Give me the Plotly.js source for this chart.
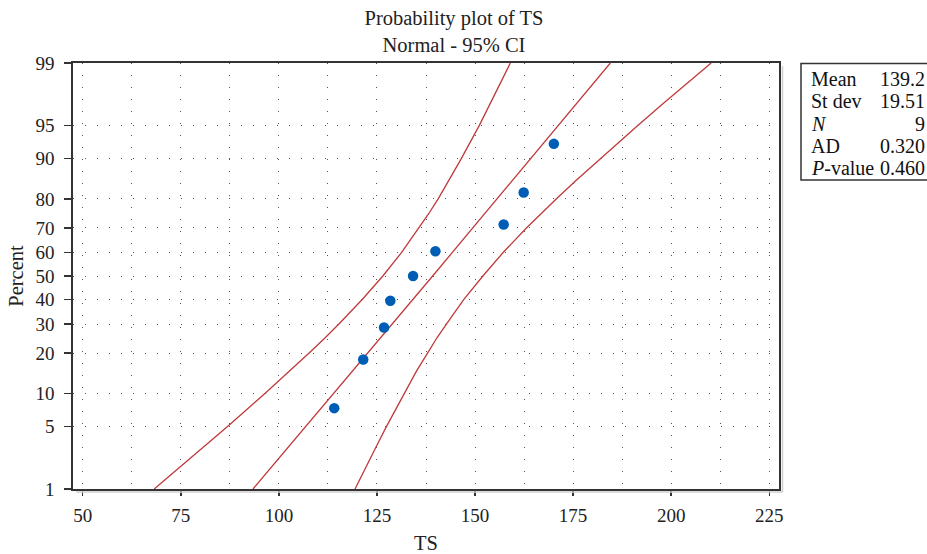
<!DOCTYPE html>
<html>
<head>
<meta charset="utf-8">
<script src="https://cdn.plot.ly/plotly-3.0.1.min.js"></script>
<style>
html,body{margin:0;padding:0;background:#fff;overflow:hidden;}
#chart{width:927px;height:554px;}
</style>
</head>
<body>
<div id="chart"></div>
<script>
// ---- data ----
const sampleTS = [114.1, 121.5, 126.8, 128.4, 134.2, 139.9, 157.3, 162.4, 170.1];
const samplePercent = [7.45, 18.09, 28.72, 39.36, 50.0, 60.64, 71.28, 81.91, 92.55];

const fitPercent = [1, 50, 99];
const fitTS = [93.4, 139.2, 184.5];

const ciPercent = [1, 2, 3, 5, 10, 15, 20, 25, 30, 40, 50, 60, 70, 75, 80, 85, 90, 95, 97, 98, 99];
const ciLowerTS = [68.2, 75.7, 80.5, 86.9, 96.5, 102.8, 107.7, 111.8, 115.3, 121.3, 126.5, 131.2, 135.7, 138.1, 140.6, 143.3, 146.5, 151.1, 153.9, 155.9, 159.0];
const ciUpperTS = [119.4, 122.5, 124.6, 127.4, 131.9, 135.1, 137.9, 140.3, 142.7, 147.2, 152.0, 157.1, 163.1, 166.6, 170.7, 175.6, 181.9, 191.5, 197.9, 202.7, 210.2];

const yTickPercent = [1, 5, 10, 20, 30, 40, 50, 60, 70, 80, 90, 95, 99];
const xTicks = [50, 75, 100, 125, 150, 175, 200, 225];

const statLabels = ['Mean', 'St dev', '<i>N</i>', 'AD', '<i>P</i>-value'];
const statValues = ['139.2', '19.51', '9', '0.320', '0.460'];

// ---- normal probability scale (inverse normal CDF) ----
function probit(p) {
  const a = [-3.969683028665376e+01, 2.209460984245205e+02, -2.759285104469687e+02, 1.383577518672690e+02, -3.066479806614716e+01, 2.506628277459239e+00];
  const b = [-5.447609879822406e+01, 1.615858368580409e+02, -1.556989798598866e+02, 6.680131188771972e+01, -1.328068155288572e+01];
  const c = [-7.784894002430293e-03, -3.223964580411365e-01, -2.400758277161838e+00, -2.549732539343734e+00, 4.374664141464968e+00, 2.938163982698783e+00];
  const d = [7.784695709041462e-03, 3.224671290700398e-01, 2.445134137142996e+00, 3.754408661907416e+00];
  const pl = 0.02425, ph = 1 - pl;
  let q, r;
  if (p < pl) {
    q = Math.sqrt(-2 * Math.log(p));
    return (((((c[0]*q+c[1])*q+c[2])*q+c[3])*q+c[4])*q+c[5]) / ((((d[0]*q+d[1])*q+d[2])*q+d[3])*q+1);
  } else if (p <= ph) {
    q = p - 0.5; r = q*q;
    return (((((a[0]*r+a[1])*r+a[2])*r+a[3])*r+a[4])*r+a[5])*q / (((((b[0]*r+b[1])*r+b[2])*r+b[3])*r+b[4])*r+1);
  } else {
    q = Math.sqrt(-2 * Math.log(1 - p));
    return -(((((c[0]*q+c[1])*q+c[2])*q+c[3])*q+c[4])*q+c[5]) / ((((d[0]*q+d[1])*q+d[2])*q+d[3])*q+1);
  }
}
const toZ = arr => arr.map(v => probit(v / 100));

const FONT = 'Liberation Serif, Times New Roman, serif';
const RED = '#c0393b';
const AX = '#333333';
const GRID = '#555555';

const lineStyle = {color: RED, width: 1.3};
const traces = [
  {x: ciLowerTS, y: toZ(ciPercent), type: 'scatter', mode: 'lines', line: lineStyle, hoverinfo: 'skip', cliponaxis: true},
  {x: ciUpperTS, y: toZ(ciPercent), type: 'scatter', mode: 'lines', line: lineStyle, hoverinfo: 'skip', cliponaxis: true},
  {x: fitTS, y: toZ(fitPercent), type: 'scatter', mode: 'lines', line: lineStyle, hoverinfo: 'skip', cliponaxis: true},
  {x: sampleTS, y: toZ(samplePercent), type: 'scatter', mode: 'markers',
   marker: {color: '#005db5', size: 10.5, line: {width: 0}}, cliponaxis: false}
];

const L = 73, R = 779, T = 63, B = 489;
const W = 927, H = 554;
const pw = R - L, ph = B - T;
const px = x => (x - L) / pw;
const py = y => (B - y) / ph;

const annotations = [];
const rowY = [79, 101.3, 123.6, 145.9, 168.2];
statLabels.forEach((s, i) => {
  annotations.push({xref: 'paper', yref: 'paper', x: px(809), y: py(rowY[i]), xanchor: 'left', yanchor: 'middle',
    text: s, showarrow: false, font: {family: FONT, size: 20, color: '#111'}});
  annotations.push({xref: 'paper', yref: 'paper', x: px(927), y: py(rowY[i]), xanchor: 'right', yanchor: 'middle',
    text: statValues[i], showarrow: false, font: {family: FONT, size: 20, color: '#111'}});
});

const layout = {
  width: W, height: H,
  margin: {l: L, r: W - R, t: T, b: H - B, pad: 0},
  paper_bgcolor: '#fff', plot_bgcolor: '#fff',
  showlegend: false,
  font: {family: FONT, size: 19, color: '#222'},
  title: {text: 'Probability plot of TS<br>Normal - 95% CI', font: {family: FONT, size: 20.5, color: '#222'},
    xref: 'container', x: 454 / W, xanchor: 'center', yref: 'container', y: 1 - 25 / H, yanchor: 'top', pad: {t: 0, b: 0}},
  xaxis: {
    range: [47.5, 227.5], tickvals: xTicks, ticktext: xTicks.map(String),
    showline: true, linecolor: AX, linewidth: 1.8, mirror: true,
    ticks: 'outside', ticklen: 5, tickwidth: 1.3, tickcolor: AX,
    ticklabelstandoff: 3,
    showgrid: true, gridcolor: GRID, griddash: '1px,11px', gridwidth: 1,
    minor: {dtick: 12.5, tick0: 50, showgrid: true, gridcolor: GRID, griddash: '1px,11px', gridwidth: 1, ticks: ''},
    zeroline: false,
    tickfont: {family: FONT, size: 19, color: '#222'},
    title: {text: 'TS', font: {family: FONT, size: 20.5, color: '#222'}, standoff: 11}
  },
  yaxis: {
    range: [probit(0.01), probit(0.99)],
    tickvals: toZ(yTickPercent), ticktext: yTickPercent.map(String),
    showline: true, linecolor: AX, linewidth: 1.8, mirror: true,
    ticks: 'outside', ticklen: 7, tickwidth: 1.3, tickcolor: AX,
    ticklabelstandoff: 6,
    showgrid: true, gridcolor: GRID, griddash: '1px,11px', gridwidth: 1,
    zeroline: false,
    tickfont: {family: FONT, size: 19, color: '#222'},
    title: {text: 'Percent', font: {family: FONT, size: 20.5, color: '#222'}, standoff: 6}
  },
  shapes: [
    {type: 'rect', xref: 'paper', yref: 'paper', x0: px(801), x1: px(960), y0: py(180), y1: py(63.5),
     line: {color: AX, width: 1.5}, fillcolor: 'rgba(0,0,0,0)'},
    {type: 'line', xref: 'paper', yref: 'paper', x0: px(782.5), x1: px(782.5), y0: py(492), y1: py(66),
     line: {color: '#cfcfcf', width: 1.5}},
    {type: 'line', xref: 'paper', yref: 'paper', x0: px(76), x1: px(782.5), y0: py(492), y1: py(492),
     line: {color: '#cfcfcf', width: 1.5}}
  ],
  annotations: annotations
};

Plotly.newPlot('chart', traces, layout, {displayModeBar: false, staticPlot: true});
</script>
</body>
</html>
